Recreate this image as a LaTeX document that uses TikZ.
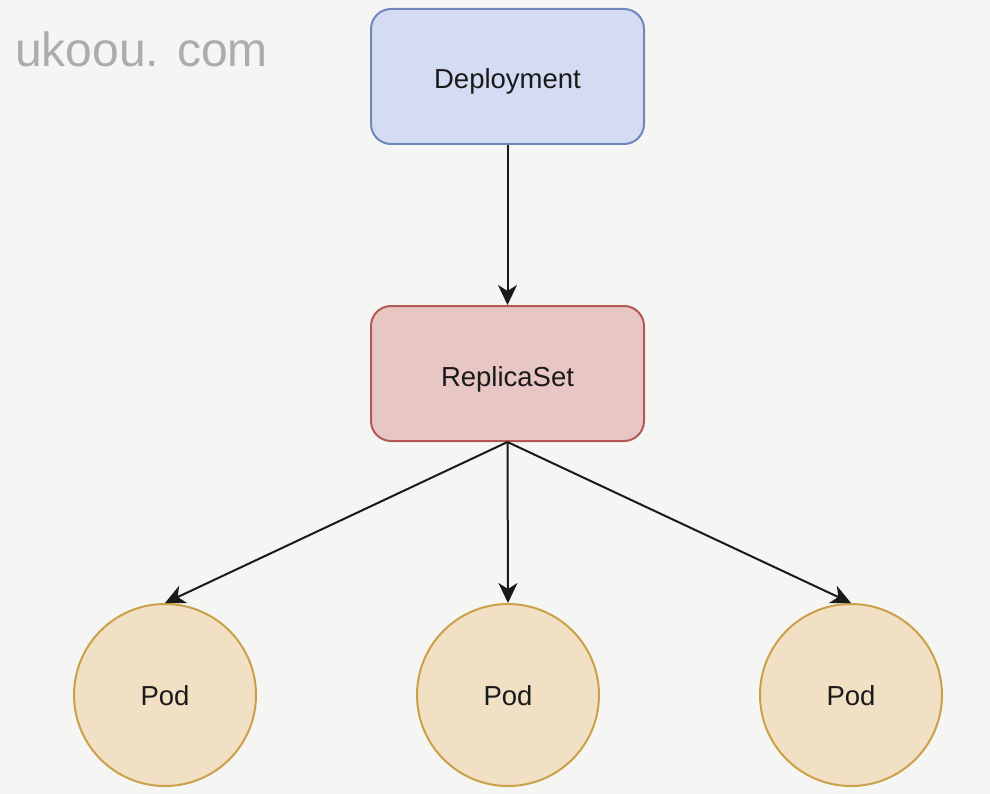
\documentclass[tikz,border=0pt]{standalone}
\usepackage{fontspec}
\setmainfont{Liberation Sans}
\usepackage{tikz}
\usepackage{xcolor}
\usetikzlibrary{arrows.meta}
\definecolor{bggray}{RGB}{245, 246, 244}
\definecolor{markgray}{RGB}{172, 172, 172}
\definecolor{textblack}{RGB}{26, 26, 26}
\definecolor{depfill}{RGB}{212, 220, 243}
\definecolor{depline}{RGB}{112, 135, 190}
\definecolor{rsfill}{RGB}{232, 198, 196}
\definecolor{rsline}{RGB}{180, 90, 86}
\definecolor{podfill}{RGB}{241, 224, 196}
\definecolor{podline}{RGB}{204, 160, 72}

\begin{document}
\begin{tikzpicture}[x = 1pt, y = -1pt,
  objbox/.style = {draw, line width = 2pt, rounded corners = 20pt,
    minimum width = 273pt, minimum height = 135pt,
    font = \fontsize{27.5}{32}\selectfont, text = textblack,
    text height = 25pt, text depth = 0pt},
  podnode/.style = {circle, draw = podline, fill = podfill, line width = 2pt,
    minimum size = 182pt, font = \fontsize{27.5}{32}\selectfont, text = textblack,
    text height = 21pt, text depth = 0pt},
  link/.style = {line width = 2pt, textblack,
    -{Stealth[length = 20pt, width = 19pt, inset = 6pt]}}]
\useasboundingbox (0,0) rectangle (990,794);
\fill[bggray] (0,0) rectangle (990,794);
\node[anchor = base west, markgray, font = \fontsize{48}{56}\selectfont, inner sep = 0pt] (mark) at (15,67) {ukoou. com};
\node[objbox, draw = depline, fill = depfill] (dep) at (507.5,76.5) {Deployment};
\node[objbox, draw = rsline, fill = rsfill] (rs) at (507.5,373.5) {ReplicaSet};
\foreach \i/\x in {1/165, 2/508, 3/851}
{
\node[podnode] (pod\i) at (\x,695) {Pod};
}
\draw[link] (dep.south) -- (rs.north);
\foreach \i in {1,2,3}
{
\draw[link] (rs.south) -- (pod\i.north);
}
\end{tikzpicture}
\end{document}
